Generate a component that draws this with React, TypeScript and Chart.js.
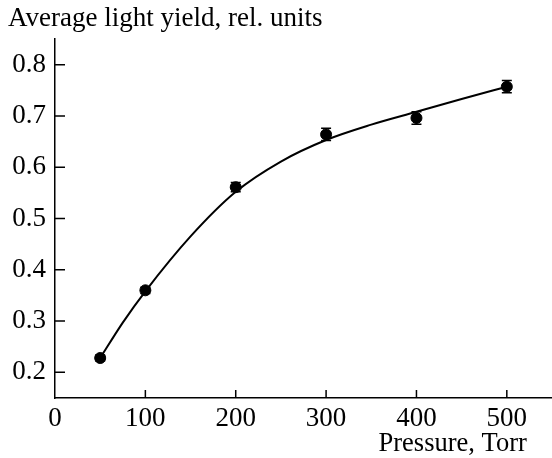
import React, { useEffect, useRef } from "react";
import { Chart, registerables } from "chart.js";

Chart.register(...registerables);

// Measured points
const pressure = [50, 100, 200, 300, 400, 500];
const lightYield = [0.228, 0.36, 0.561, 0.664, 0.696, 0.757];
const yieldError = [0.006, 0.006, 0.009, 0.012, 0.012, 0.012];

// Fitted curve
const fitPressure = [50, 75, 100, 150, 200, 250, 300, 350, 400, 450, 500];
const fitYield = [0.228, 0.297, 0.358, 0.465, 0.552, 0.611, 0.653, 0.683, 0.708, 0.733, 0.757];

// Axis ticks
const xTicks = [0, 100, 200, 300, 400, 500];
const yTicks = [0.2, 0.3, 0.4, 0.5, 0.6, 0.7, 0.8];

const xTitle = "Pressure, Torr";
const yTitle = "Average light yield, rel. units";

const FONT = "'Liberation Serif', 'DejaVu Serif', serif";
const FS = 27;

const errorBarPlugin = {
  id: "errorBars",
  afterDatasetsDraw(chart: any) {
    const { ctx, scales } = chart;
    const xs = scales.x;
    const ys = scales.y;
    ctx.save();
    ctx.strokeStyle = "#000";
    ctx.lineWidth = 1.5;
    pressure.forEach((p, i) => {
      const px = xs.getPixelForValue(p);
      const top = ys.getPixelForValue(lightYield[i] + yieldError[i]);
      const bot = ys.getPixelForValue(lightYield[i] - yieldError[i]);
      ctx.beginPath();
      ctx.moveTo(px, top);
      ctx.lineTo(px, bot);
      ctx.moveTo(px - 5, top);
      ctx.lineTo(px + 5, top);
      ctx.moveTo(px - 5, bot);
      ctx.lineTo(px + 5, bot);
      ctx.stroke();
    });
    ctx.restore();
  },
};

const innerTicksPlugin = {
  id: "innerTicks",
  afterDraw(chart: any) {
    const { ctx, scales, chartArea } = chart;
    ctx.save();
    ctx.strokeStyle = "#000";
    ctx.lineWidth = 1.5;
    ctx.beginPath();
    xTicks.forEach((v) => {
      if (v === 0) return;
      const px = scales.x.getPixelForValue(v);
      ctx.moveTo(px, chartArea.bottom);
      ctx.lineTo(px, chartArea.bottom - 8);
    });
    yTicks.forEach((v) => {
      const py = scales.y.getPixelForValue(v);
      ctx.moveTo(chartArea.left, py);
      ctx.lineTo(chartArea.left + 10, py);
    });
    ctx.stroke();
    // x-axis title, right-aligned beneath the last tick label
    ctx.fillStyle = "#000";
    ctx.font = `${FS - 0.5}px ${FONT}`;
    ctx.textAlign = "right";
    ctx.textBaseline = "alphabetic";
    const x500 = scales.x.getPixelForValue(xTicks[xTicks.length - 1]);
    ctx.fillText(xTitle, x500 + 20, chartArea.bottom + 53);
    ctx.restore();
  },
};

export default function App() {
  const ref = useRef<HTMLCanvasElement | null>(null);

  useEffect(() => {
    if (!ref.current) return;
    const chart = new Chart(ref.current, {
      type: "scatter",
      data: {
        datasets: [
          {
            type: "line",
            label: "Fit",
            data: fitPressure.map((x, i) => ({ x, y: fitYield[i] })),
            borderColor: "#000",
            borderWidth: 2,
            pointRadius: 0,
            fill: false,
            cubicInterpolationMode: "monotone",
          } as any,
          {
            label: "Measured",
            data: pressure.map((x, i) => ({ x, y: lightYield[i] })),
            backgroundColor: "#000",
            borderColor: "#000",
            pointRadius: 5.5,
            pointHoverRadius: 5.5,
          },
        ],
      },
      options: {
        responsive: false,
        animation: false,
        layout: { autoPadding: false, padding: { left: 8, right: 0, top: 0, bottom: 0 } },
        plugins: {
          legend: { display: false },
          tooltip: { enabled: false },
          title: {
            display: true,
            text: yTitle,
            align: "start",
            color: "#000",
            font: { family: FONT, size: FS, weight: "normal", lineHeight: 1.2 },
            padding: { top: 3, bottom: 3.6 },
          },
        },
        scales: {
          x: {
            type: "linear",
            min: 0,
            max: 550,
            afterFit: (s: any) => {
              s.height = 60;
              s.paddingRight = 0;
              s.paddingLeft = 0;
            },
            afterBuildTicks: (s: any) => {
              s.ticks = xTicks.map((v) => ({ value: v }));
            },
            grid: { display: false, drawTicks: false },
            border: { display: true, color: "#000", width: 1.5 },
            ticks: {
              color: "#000",
              font: { family: FONT, size: FS },
              padding: 5,
              maxRotation: 0,
              callback: (v: any) => String(v),
            },
          },
          y: {
            type: "linear",
            min: 0.15,
            max: 0.85,
            afterFit: (s: any) => {
              s.width = 47;
              s.paddingTop = 0;
              s.paddingBottom = 0;
            },
            afterBuildTicks: (s: any) => {
              s.ticks = yTicks.map((v) => ({ value: v }));
            },
            grid: { display: false, drawTicks: false },
            border: { display: true, color: "#000", width: 1.5 },
            ticks: {
              color: "#000",
              font: { family: FONT, size: FS },
              padding: 9,
              callback: (v: any) => Number(v).toFixed(1),
            },
          },
        },
      },
      plugins: [errorBarPlugin, innerTicksPlugin],
    });
    return () => chart.destroy();
  }, []);

  return (
    <div style={{ position: "absolute", left: 0, top: 0, width: 552, height: 458, background: "#fff" }}>
      <canvas ref={ref} width={552} height={458} />
    </div>
  );
}
